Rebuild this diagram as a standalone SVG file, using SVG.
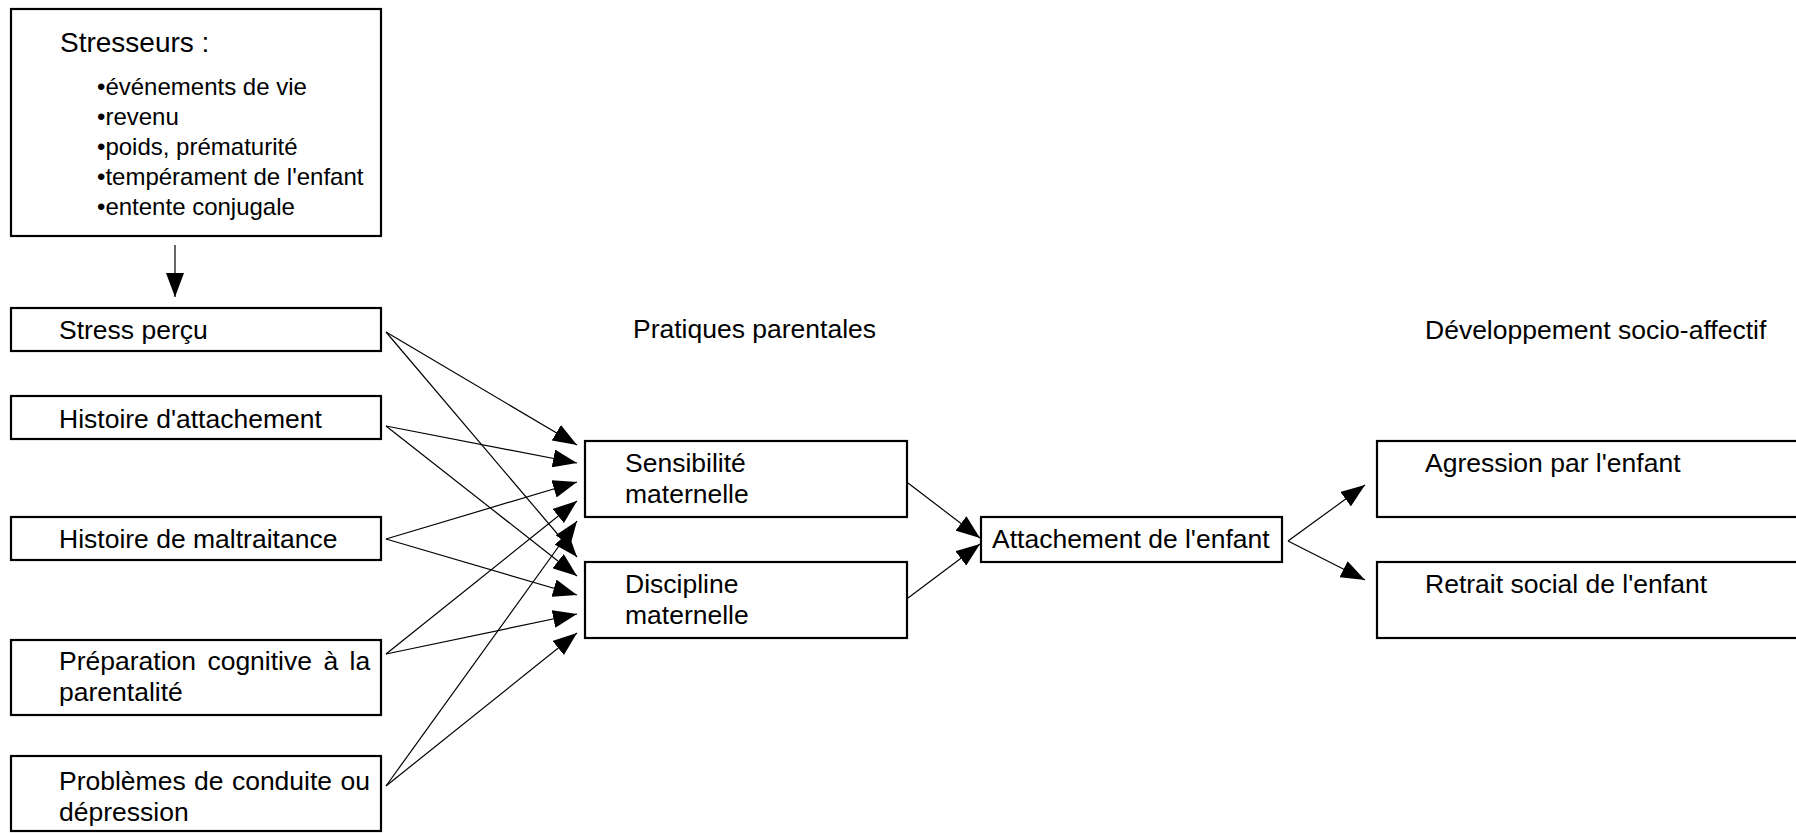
<svg xmlns="http://www.w3.org/2000/svg" width="1796" height="833" viewBox="0 0 1796 833">
<style>
.box{fill:#fff;stroke:#000;stroke-width:2.2}
.t{font-family:"Liberation Sans",Arial,sans-serif;font-size:26.5px;fill:#000}
.b{font-family:"Liberation Sans",Arial,sans-serif;font-size:24px;fill:#000}
.c line{stroke:#000;stroke-width:1.2;marker-end:url(#ah)}
</style>
<defs>
<marker id="ah" markerUnits="userSpaceOnUse" markerWidth="24" markerHeight="18" refX="24" refY="9" orient="auto">
<path d="M0,0 L24,9 L0,18 Z" fill="#000"/>
</marker>
</defs>
<rect width="1796" height="833" fill="#fff"/>
<g id="stresseurs">
<rect class="box" x="11" y="9" width="370" height="227"/>
<text class="t" x="60" y="52" style="font-size:28px">Stresseurs :</text>
<text class="b" x="97" y="95">•événements de vie</text>
<text class="b" x="97" y="125">•revenu</text>
<text class="b" x="97" y="155">•poids, prématurité</text>
<text class="b" x="97" y="185">•tempérament de l'enfant</text>
<text class="b" x="97" y="215">•entente conjugale</text>
</g>
<g id="stress-percu">
<rect class="box" x="11" y="308" width="370" height="43"/>
<text class="t" x="59" y="339">Stress perçu</text>
</g>
<g id="histoire-attachement">
<rect class="box" x="11" y="396" width="370" height="43"/>
<text class="t" x="59" y="428">Histoire d'attachement</text>
</g>
<g id="histoire-maltraitance">
<rect class="box" x="11" y="517" width="370" height="43"/>
<text class="t" x="59" y="548">Histoire de maltraitance</text>
</g>
<g id="preparation">
<rect class="box" x="11" y="640" width="370" height="75"/>
<text class="t" y="670"><tspan x="59">Préparation</tspan><tspan x="207.4">cognitive</tspan><tspan x="323.4">à</tspan><tspan x="349.5">la</tspan></text>
<text class="t" x="59" y="701">parentalité</text>
</g>
<g id="problemes">
<rect class="box" x="11" y="756" width="370" height="75"/>
<text class="t" y="790"><tspan x="59">Problèmes</tspan><tspan x="194">de</tspan><tspan x="231.9">conduite</tspan><tspan x="340.5">ou</tspan></text>
<text class="t" x="59" y="821">dépression</text>
</g>
<g id="pratiques-label">
<text class="t" x="633" y="338">Pratiques parentales</text>
</g>
<g id="developpement-label">
<text class="t" x="1425" y="339">Développement socio-affectif</text>
</g>
<g id="sensibilite">
<rect class="box" x="585" y="441" width="322" height="76"/>
<text class="t" x="625" y="472">Sensibilité</text>
<text class="t" x="625" y="503">maternelle</text>
</g>
<g id="discipline">
<rect class="box" x="585" y="562" width="322" height="76"/>
<text class="t" x="625" y="593">Discipline</text>
<text class="t" x="625" y="624">maternelle</text>
</g>
<g id="attachement">
<rect class="box" x="981" y="517" width="301" height="45"/>
<text class="t" x="992" y="548">Attachement de l'enfant</text>
</g>
<g id="agression">
<rect class="box" x="1377" y="441" width="430" height="76"/>
<text class="t" x="1425" y="472">Agression par l'enfant</text>
</g>
<g id="retrait">
<rect class="box" x="1377" y="562" width="430" height="76"/>
<text class="t" x="1425" y="593">Retrait social de l'enfant</text>
</g>
<g id="connectors" class="c">
<line x1="175" y1="245" x2="175" y2="297"/>
<line x1="386" y1="332" x2="577" y2="445"/>
<line x1="386" y1="426" x2="577" y2="463"/>
<line x1="386" y1="539" x2="577" y2="482"/>
<line x1="386" y1="654" x2="577" y2="501"/>
<line x1="386" y1="786" x2="577" y2="521"/>
<line x1="386" y1="332" x2="577" y2="557"/>
<line x1="386" y1="426" x2="577" y2="576"/>
<line x1="386" y1="539" x2="577" y2="595"/>
<line x1="386" y1="654" x2="577" y2="614"/>
<line x1="386" y1="786" x2="577" y2="633"/>
<line x1="908" y1="483" x2="980" y2="538"/>
<line x1="908" y1="598" x2="980" y2="544"/>
<line x1="1288" y1="541" x2="1365" y2="485"/>
<line x1="1288" y1="541" x2="1365" y2="580"/>
</g>
</svg>
